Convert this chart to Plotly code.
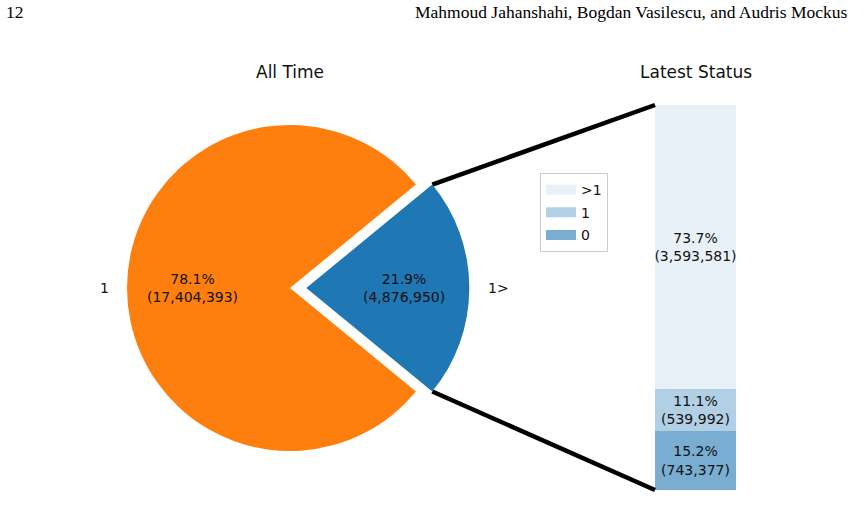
import math
import plotly.graph_objects as go

W, H = 868, 527

# ---------------- data ----------------
pie_labels = ["1>", "1"]
pie_values = [4876950, 17404393]
pie_colors = ["#1f77b4", "#ff7f0e"]
pie_pull = [0.1, 0.0]

bar_labels = [">1", "1", "0"]          # legend order, top to bottom of the bar
bar_values = [3593581, 539992, 743377]
bar_alphas = [0.1, 0.35, 0.6]

title_left = "All Time"
title_right = "Latest Status"
header_left = "12"
header_right = "Mahmoud Jahanshahi, Bogdan Vasilescu, and Audris Mockus"

# ---------------- geometry (pixels) ----------------
cx, cy, r = 290.0, 288.0, 163.0           # pie centre and radius
max_pull = max(pie_pull)
box = r * (1 + max_pull)                  # half size of pie domain box
bar_x0, bar_x1 = 655.0, 736.0
bar_top, bar_bot = 105.0, 490.0

FONT = "DejaVu Sans"
TXT = "#111111"


def blend(hex_color, alpha):
    h = hex_color.lstrip("#")
    rgb = [int(h[i:i + 2], 16) for i in (0, 2, 4)]
    out = [round(alpha * c + (1 - alpha) * 255) for c in rgb]
    return "rgb(%d,%d,%d)" % tuple(out)


pie_total = sum(pie_values)
pie_frac = [v / pie_total for v in pie_values]
bar_total = sum(bar_values)
bar_frac = [v / bar_total for v in bar_values]

fig = go.Figure()

# ---------------- pie ----------------
rotation = 90 - 180 * pie_frac[0]
fig.add_trace(go.Pie(
    labels=pie_labels, values=pie_values, sort=False,
    direction="clockwise", rotation=rotation,
    pull=pie_pull,
    marker=dict(colors=pie_colors, line=dict(width=0)),
    textinfo="none", hoverinfo="skip", showlegend=False,
    domain=dict(x=[(cx - box) / W, (cx + box) / W],
                y=[1 - (cy + box) / H, 1 - (cy - box) / H]),
))

# ---------------- stacked bar ----------------
bar_colors = [blend("#1f77b4", a) for a in bar_alphas]
for lab, val, fr, col in reversed(list(zip(bar_labels, bar_values, bar_frac, bar_colors))):
    fig.add_trace(go.Bar(
        x=[0], y=[fr], width=[1], name=lab,
        marker=dict(color=col, line=dict(width=0)),
        customdata=[[fr * 100, val]],
        texttemplate="%{customdata[0]:.1f}%<br>(%{customdata[1]:,})",
        textposition="inside", insidetextanchor="middle", constraintext="none",
        textangle=0,
        textfont=dict(family=FONT, size=14, color=TXT),
        hoverinfo="skip", showlegend=False,
        xaxis="x", yaxis="y",
    ))

# legend entries (patch-like)
for lab, col in zip(bar_labels, bar_colors):
    fig.add_trace(go.Scatter(
        x=[None], y=[None], mode="lines", name=lab, legendgroup=lab,
        line=dict(color=col, width=10),
        xaxis="x2", yaxis="y2", hoverinfo="skip",
    ))

# ---------------- connecting lines ----------------
half = math.pi * pie_frac[0]              # half angle of the pulled wedge
wx = cx + pie_pull[0] * r
corner_top = (wx + r * math.cos(half), cy - r * math.sin(half))
corner_bot = (wx + r * math.cos(half), cy + r * math.sin(half))
for (px, py), by in ((corner_top, bar_top), (corner_bot, bar_bot)):
    fig.add_trace(go.Scatter(
        x=[px, bar_x0], y=[py, by], mode="lines",
        line=dict(color="black", width=4.5), showlegend=False,
        hoverinfo="skip", xaxis="x2", yaxis="y2",
    ))

# ---------------- annotations ----------------
ann = []
mid_angles = [0.0, math.pi]  # wedge centre directions (right, left)
centres = [(wx, cy), (cx, cy)]
for lab, val, fr, ang, (ox, oy) in zip(pie_labels, pie_values, pie_frac, mid_angles, centres):
    tx = ox + 0.6 * r * math.cos(ang)
    ty = oy - 0.6 * r * math.sin(ang)
    ann.append(dict(x=tx, y=ty, xref="x2", yref="y2", showarrow=False,
                    text="%.1f%%<br>(%s)" % (fr * 100, format(val, ",")),
                    font=dict(family=FONT, size=14, color=TXT)))
    lx = ox + 1.1 * r * math.cos(ang)
    ly = oy - 1.1 * r * math.sin(ang)
    ann.append(dict(x=lx, y=ly, xref="x2", yref="y2", showarrow=False,
                    text=lab, xanchor="left" if math.cos(ang) > 0 else "right",
                    font=dict(family=FONT, size=14, color=TXT)))

ann.append(dict(x=cx, y=72, xref="x2", yref="y2", showarrow=False, text=title_left,
                font=dict(family=FONT, size=17, color=TXT)))
ann.append(dict(x=(bar_x0 + bar_x1) / 2, y=72, xref="x2", yref="y2", showarrow=False,
                text=title_right, font=dict(family=FONT, size=17, color=TXT)))
ann.append(dict(x=4, y=12, xref="x2", yref="y2", showarrow=False, text=header_left,
                xanchor="left", font=dict(family="Liberation Serif", size=17.5, color="black")))
ann.append(dict(x=849, y=12, xref="x2", yref="y2", showarrow=False, text=header_right,
                xanchor="right", font=dict(family="Liberation Serif", size=17.5, color="black")))

fig.update_layout(
    width=W, height=H, margin=dict(l=0, r=0, t=0, b=0),
    paper_bgcolor="white", plot_bgcolor="rgba(0,0,0,0)",
    barmode="stack", bargap=0,
    xaxis=dict(domain=[bar_x0 / W, bar_x1 / W], range=[-0.5, 0.5], visible=False,
               fixedrange=True),
    yaxis=dict(domain=[1 - bar_bot / H, 1 - bar_top / H], range=[0, 1], visible=False,
               fixedrange=True),
    xaxis2=dict(domain=[0, 1], range=[0, W], visible=False, anchor="y2", fixedrange=True),
    yaxis2=dict(domain=[0, 1], range=[H, 0], visible=False, anchor="x2", fixedrange=True),
    annotations=ann,
    legend=dict(x=540 / W, y=1 - 173 / H, xanchor="left", yanchor="top",
                bordercolor="#cccccc", borderwidth=1, bgcolor="white",
                font=dict(family=FONT, size=14, color=TXT),
                traceorder="grouped", tracegroupgap=1.5),
    showlegend=True,
)

fig.write_html("out.html")
